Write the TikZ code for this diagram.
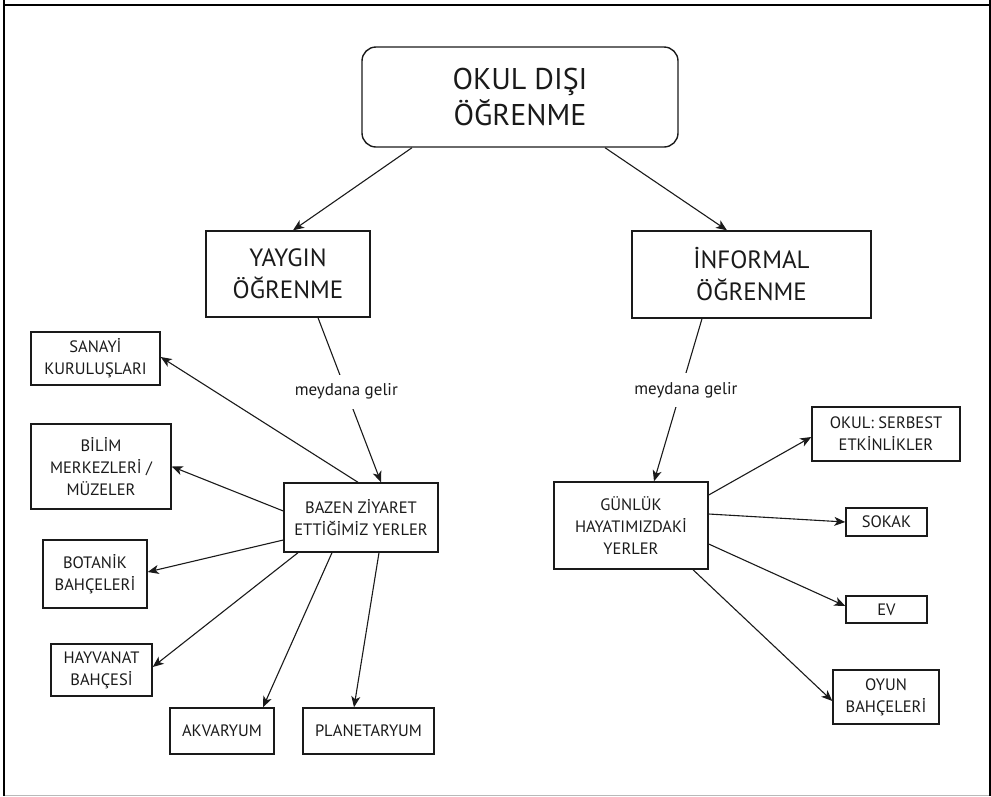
\documentclass[tikz,border=0pt]{standalone}
\usepackage{fontspec}
\setmainfont{PT Sans}
\usetikzlibrary{arrows.meta}
\definecolor{ink}{HTML}{1A1A1A}
\begin{document}
\begin{tikzpicture}[x=1pt,y=-1pt,
  box/.style={draw=ink,line width=1.4pt,inner sep=0pt,align=center,text=ink},
  topbox/.style={box,rounded corners=14pt,font=\fontsize{30}{36}\selectfont},
  midbox/.style={box,font=\fontsize{25}{32}\selectfont},
  leaf/.style={box,font=\fontsize{16.5}{22}\selectfont},
  link/.style={draw=ink,line width=1.1pt,-{Stealth[length=11pt,width=9pt,inset=3pt]}},
  lbl/.style={fill=white,inner xsep=2pt,inner ysep=9pt,text=ink,font=\fontsize{17}{20}\selectfont}]
\useasboundingbox (0,0) rectangle (991,796);

% page frame
\draw[line width=2.5pt] (4,0) -- (4,796);
\draw[line width=2pt] (3,5) -- (991,5);
\draw[line width=2pt] (990,0) -- (990,796);
\draw[line width=1pt,gray!55] (5,795) -- (989,795);

% main concept
\node[topbox,minimum width=316,minimum height=100] (top) at (520,97) {OKUL DIŞI\\ÖĞRENME};

% second level
\node[midbox,minimum width=164,minimum height=86] (yay) at (288,274) {YAYGIN\\ÖĞRENME};
\node[midbox,minimum width=239,minimum height=87] (inf) at (751.5,274.5) {İNFORMAL\\ÖĞRENME};

% place groups
\node[leaf,minimum width=154,minimum height=69] (baz) at (361,517.5) {BAZEN ZİYARET\\ETTİĞİMİZ YERLER};
\node[leaf,minimum width=154,minimum height=87] (gun) at (631,525.5) {GÜNLÜK\\HAYATIMIZDAKİ\\YERLER};

% left leaves
\node[leaf,minimum width=129,minimum height=53] (san) at (95.5,358.5) {SANAYİ\\KURULUŞLARI};
\node[leaf,minimum width=140,minimum height=85] (bil) at (101,466.5) {BİLİM\\MERKEZLERİ /\\MÜZELER};
\node[leaf,minimum width=104,minimum height=68] (bot) at (95,574) {BOTANİK\\BAHÇELERİ};
\node[leaf,minimum width=101,minimum height=52] (hay) at (101.5,670) {HAYVANAT\\BAHÇESİ};
\node[leaf,minimum width=104,minimum height=46] (akv) at (222,731) {AKVARYUM};
\node[leaf,minimum width=131,minimum height=46] (pla) at (368.5,731) {PLANETARYUM};

% right leaves
\node[leaf,minimum width=148,minimum height=54] (oku) at (886,434) {OKUL: SERBEST\\ETKİNLİKLER};
\node[leaf,minimum width=81,minimum height=28] (sok) at (886.5,522) {SOKAK};
\node[leaf,minimum width=81,minimum height=27] (ev) at (886.5,609.5) {EV};
\node[leaf,minimum width=106,minimum height=54] (oyu) at (886,697) {OYUN\\BAHÇELERİ};

% connectors
\draw[link] ([xshift=-108pt]top.south) -- ([xshift=5pt]yay.north);
\draw[link] ([xshift=85pt]top.south) -- ([xshift=-24.5pt]inf.north);

\draw[link] ([xshift=30pt]yay.south) -- node[lbl,pos=0.45] {meydana gelir} ([xshift=20pt]baz.north);
\draw[link] ([xshift=-49.5pt]inf.south) -- node[lbl,pos=0.44,xshift=5pt] {meydana gelir} ([xshift=23pt]gun.north);

\draw[link] ([xshift=-3pt]baz.north) -- ([yshift=1.5pt]san.east);
\draw[link] ([yshift=6.5pt]baz.west) -- (bil.east);
\draw[link] ([yshift=-22.5pt]baz.west) -- ([yshift=2pt]bot.east);
\draw[link] ([xshift=-63pt]baz.south) -- ([yshift=3pt]hay.east);
\draw[link] ([xshift=-29pt]baz.south) -- ([xshift=41pt]akv.north);
\draw[link] ([xshift=18pt]baz.south) -- ([xshift=-14.5pt]pla.north);

\draw[link] ([yshift=30.5pt]gun.east) -- ([yshift=-3pt]oku.west);
\draw[link] ([yshift=11.5pt]gun.east) -- (sok.west);
\draw[link] ([yshift=-18.5pt]gun.east) -- ([yshift=3.5pt]ev.west);
\draw[link] ([xshift=62pt]gun.south) -- ([yshift=-4pt]oyu.west);
\end{tikzpicture}
\end{document}
